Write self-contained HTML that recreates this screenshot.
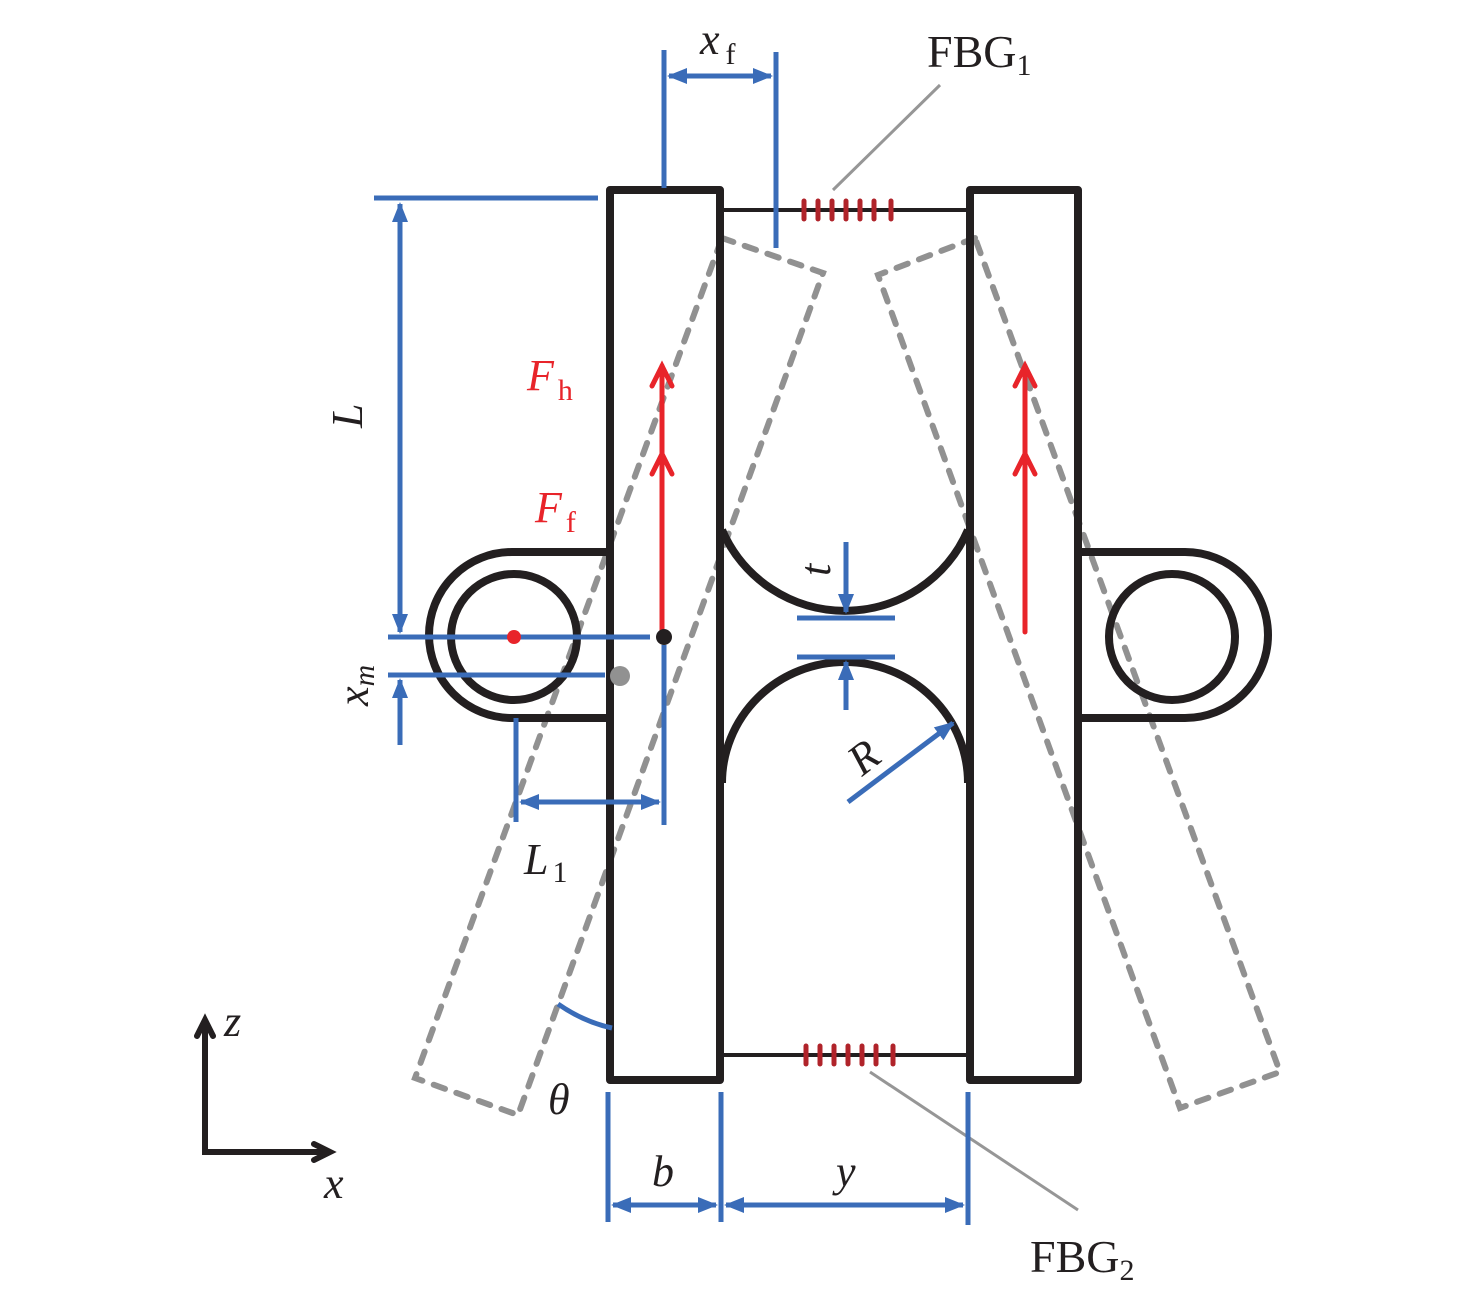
<!DOCTYPE html>
<html><head><meta charset="utf-8"><style>html,body{margin:0;padding:0;background:#fff}svg{display:block}</style></head>
<body>
<svg width="1476" height="1309" viewBox="0 0 1476 1309" xmlns="http://www.w3.org/2000/svg" font-family="Liberation Serif, serif">
<defs>
<marker id="ab" viewBox="0 0 10 10" refX="9" refY="5" markerWidth="4" markerHeight="4" orient="auto-start-reverse"><path d="M0,1 L10,5 L0,9 z" fill="#3a6cb8"/></marker>
</defs>
<g fill="none" stroke="#919191" stroke-width="6" stroke-dasharray="12,12" stroke-linecap="round">
<polygon points="722,238 823,273 518,1115 415,1078"/>
<polygon points="975,238 878,275 1180,1108 1280,1072"/>
</g>
<g stroke="#231f20" stroke-width="4"><line x1="720" y1="210" x2="970" y2="210"/><line x1="720" y1="1055" x2="970" y2="1055"/></g>
<g stroke="#b0232a" stroke-width="5" stroke-linecap="round">
<line x1="804" y1="201" x2="804" y2="219"/><line x1="818" y1="201" x2="818" y2="219"/><line x1="832" y1="201" x2="832" y2="219"/><line x1="846" y1="201" x2="846" y2="219"/><line x1="860" y1="201" x2="860" y2="219"/><line x1="874" y1="201" x2="874" y2="219"/><line x1="891" y1="201" x2="891" y2="219"/>
<line x1="806" y1="1046" x2="806" y2="1064"/><line x1="820" y1="1046" x2="820" y2="1064"/><line x1="834" y1="1046" x2="834" y2="1064"/><line x1="848" y1="1046" x2="848" y2="1064"/><line x1="862" y1="1046" x2="862" y2="1064"/><line x1="876" y1="1046" x2="876" y2="1064"/><line x1="893" y1="1046" x2="893" y2="1064"/>
</g>
<g stroke="#969696" stroke-width="3"><line x1="940" y1="85" x2="833" y2="190"/><line x1="870" y1="1072" x2="1078" y2="1210"/></g>
<g fill="none" stroke="#231f20" stroke-width="8" stroke-linejoin="round">
<rect x="610" y="190" width="110" height="890"/>
<rect x="970" y="190" width="108" height="890"/>
<path d="M722,530 A134,134 0 0 0 968,530"/>
<path d="M722,783 A123,121 0 0 1 968,783"/>
<path d="M606,552 H512 A83,83 0 0 0 512,718 H606"/>
<circle cx="514" cy="637" r="63"/>
<path d="M1082,552 H1185 A83,83 0 0 1 1185,718 H1082"/>
<circle cx="1172" cy="637" r="63"/>
</g>
<g stroke="#3a6cb8" stroke-width="5" fill="none">
<line x1="374" y1="198" x2="598" y2="198"/>
<line x1="400" y1="204" x2="400" y2="632" marker-start="url(#ab)" marker-end="url(#ab)"/>
<line x1="388" y1="637" x2="650" y2="637"/>
<line x1="388" y1="675" x2="605" y2="675"/>
<line x1="400" y1="745" x2="400" y2="680" marker-end="url(#ab)"/>
<line x1="516" y1="718" x2="516" y2="822"/>
<line x1="664" y1="645" x2="664" y2="825"/>
<line x1="521" y1="802" x2="659" y2="802" marker-start="url(#ab)" marker-end="url(#ab)"/>
<line x1="664" y1="50" x2="664" y2="188"/>
<line x1="776" y1="52" x2="776" y2="248"/>
<line x1="669" y1="76" x2="771" y2="76" marker-start="url(#ab)" marker-end="url(#ab)"/>
<line x1="846" y1="542" x2="846" y2="612" marker-end="url(#ab)"/>
<line x1="797" y1="618" x2="895" y2="618"/>
<line x1="797" y1="657" x2="895" y2="657"/>
<line x1="846" y1="710" x2="846" y2="662" marker-end="url(#ab)"/>
<line x1="848" y1="802" x2="953" y2="723" marker-end="url(#ab)"/>
<line x1="608" y1="1092" x2="608" y2="1222"/>
<line x1="721" y1="1092" x2="721" y2="1222"/>
<line x1="968" y1="1092" x2="968" y2="1225"/>
<line x1="613" y1="1205" x2="716" y2="1205" marker-start="url(#ab)" marker-end="url(#ab)"/>
<line x1="726" y1="1205" x2="963" y2="1205" marker-start="url(#ab)" marker-end="url(#ab)"/>
<path d="M558,1004 Q584,1022 612,1028"/>
</g>
<g stroke="#e8242a" stroke-width="5" fill="none" stroke-linecap="round">
<line x1="662" y1="632" x2="662" y2="366"/>
<polyline points="652,386 662,366 672,386"/><polyline points="652,474 662,454 672,474"/>
<line x1="1025" y1="632" x2="1025" y2="366"/>
<polyline points="1015,386 1025,366 1035,386"/><polyline points="1015,474 1025,454 1035,474"/>
</g>
<circle cx="664" cy="637" r="8" fill="#231f20"/>
<circle cx="514" cy="637" r="7" fill="#e8242a"/>
<circle cx="620" cy="676" r="10" fill="#919191"/>
<g stroke="#231f20" stroke-width="6" fill="none" stroke-linecap="round"><polyline points="205,1022 205,1152 328,1152"/><polyline points="197,1036 205,1020 213,1036"/><polyline points="314,1144 330,1152 314,1160"/></g>
<g fill="#231f20" font-size="44" font-style="italic">
<text x="224" y="1036">z</text>
<text x="324" y="1198">x</text>
<text x="548" y="1114">θ</text>
<text x="652" y="1186">b</text>
<text x="836" y="1186">y</text>
<text x="524" y="874">L<tspan font-style="normal" font-size="30" dx="4" dy="8">1</tspan></text>
<text x="700" y="54">x<tspan font-style="normal" font-size="30" dx="6" dy="10">f</tspan></text>
<text transform="translate(362,428) rotate(-90)">L</text>
<text transform="translate(368,706) rotate(-90)">x<tspan font-size="30" dy="6">m</tspan></text>
<text transform="translate(830,576) rotate(-90)">t</text>
<text transform="translate(862,777) rotate(-38)">R</text>
</g>
<g fill="#e8242a" font-size="44" font-style="italic">
<text x="527" y="390">F<tspan font-style="normal" font-size="30" dx="4" dy="10">h</tspan></text>
<text x="535" y="522">F<tspan font-style="normal" font-size="30" dx="4" dy="10">f</tspan></text>
</g>
<g fill="#231f20" font-size="46">
<text x="927" y="67">FBG<tspan font-size="30" dy="8">1</tspan></text>
<text x="1030" y="1272">FBG<tspan font-size="30" dy="8">2</tspan></text>
</g>
</svg>
</body></html>
